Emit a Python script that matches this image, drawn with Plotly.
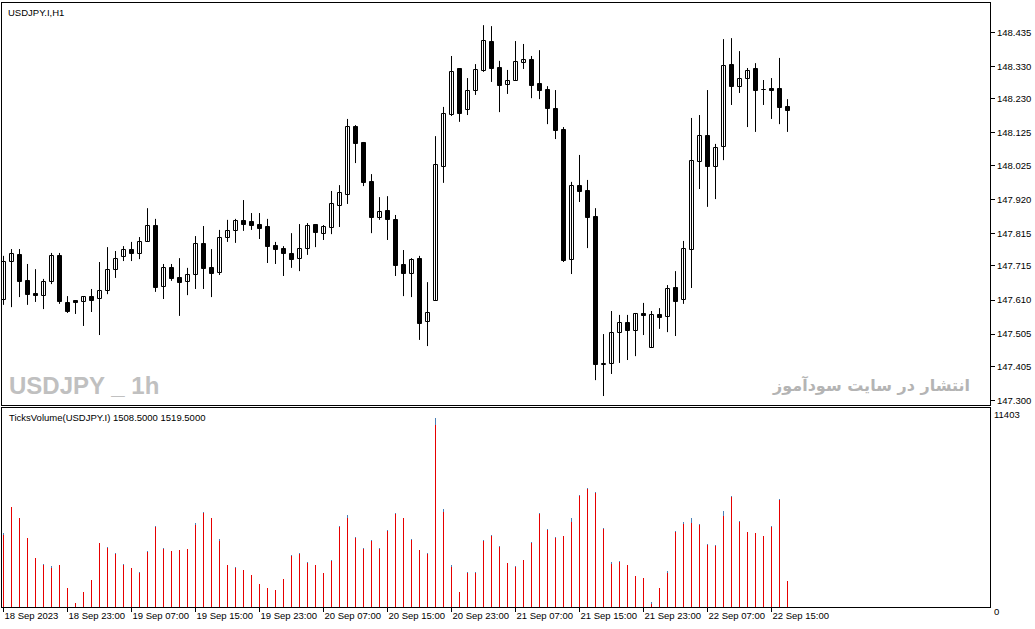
import plotly.graph_objects as go

# USDJPY.I H1, 99 bars from 18 Sep 2023 15:00
opens = [
    147.610, 147.727, 147.749, 147.669, 147.628, 147.622, 147.666, 147.746, 147.601, 147.607,
    147.604, 147.619, 147.613, 147.638, 147.702, 147.742, 147.764, 147.752, 147.789, 147.838,
    147.650, 147.709, 147.678, 147.666, 147.687, 147.783, 147.709, 147.693, 147.801, 147.823,
    147.853, 147.850, 147.841, 147.835, 147.776, 147.767, 147.752, 147.736, 147.767, 147.841,
    147.813, 147.832, 147.900, 147.933, 148.143, 148.094, 147.973, 147.863, 147.884, 147.857,
    147.718, 147.690, 147.736, 147.542, 147.607, 148.020, 148.180, 148.322, 148.196, 148.254,
    148.316, 148.405, 148.325, 148.273, 148.285, 148.340, 148.350, 148.276, 148.257, 148.199,
    148.134, 147.733, 147.961, 147.946, 147.866, 147.410, 147.413, 147.508, 147.539, 147.514,
    147.567, 147.462, 147.564, 147.558, 147.647, 147.610, 147.764, 148.035, 148.115, 148.020,
    148.081, 148.334, 148.266, 148.291, 148.322, 148.257, 148.260, 148.260, 148.205]
highs = [
    147.746, 147.767, 147.767, 147.721, 147.705, 147.675, 147.755, 147.755, 147.622, 147.607,
    147.622, 147.644, 147.727, 147.773, 147.761, 147.776, 147.789, 147.804, 147.893, 147.860,
    147.721, 147.721, 147.739, 147.709, 147.807, 147.838, 147.767, 147.826, 147.857, 147.860,
    147.918, 147.878, 147.878, 147.860, 147.789, 147.776, 147.816, 147.844, 147.847, 147.844,
    147.841, 147.946, 147.964, 148.168, 148.149, 148.097, 147.998, 147.927, 147.930, 147.872,
    147.764, 147.739, 147.746, 147.665, 148.115, 148.205, 148.362, 148.322, 148.294, 148.337,
    148.457, 148.454, 148.347, 148.319, 148.408, 148.399, 148.362, 148.380, 148.269, 148.257,
    148.143, 147.974, 148.057, 147.980, 147.893, 147.505, 147.576, 147.564, 147.564, 147.570,
    147.601, 147.576, 147.585, 147.656, 147.699, 147.792, 148.171, 148.180, 148.257, 148.091,
    148.414, 148.417, 148.377, 148.325, 148.340, 148.288, 148.294, 148.356, 148.229]
lows = [
    147.595, 147.588, 147.619, 147.595, 147.604, 147.582, 147.659, 147.598, 147.570, 147.567,
    147.530, 147.573, 147.502, 147.628, 147.678, 147.730, 147.730, 147.736, 147.789, 147.635,
    147.613, 147.669, 147.561, 147.625, 147.644, 147.644, 147.619, 147.687, 147.789, 147.786,
    147.823, 147.826, 147.798, 147.724, 147.721, 147.684, 147.709, 147.699, 147.749, 147.773,
    147.795, 147.813, 147.835, 147.906, 148.032, 147.961, 147.816, 147.857, 147.795, 147.684,
    147.622, 147.619, 147.487, 147.468, 147.607, 147.971, 148.177, 148.159, 148.180, 148.242,
    148.313, 148.282, 148.189, 148.245, 148.285, 148.322, 148.232, 148.229, 148.152, 148.106,
    147.727, 147.690, 147.912, 147.770, 147.363, 147.314, 147.382, 147.416, 147.425, 147.437,
    147.502, 147.462, 147.521, 147.511, 147.499, 147.598, 147.647, 147.952, 147.897, 147.921,
    148.041, 148.211, 148.248, 148.143, 148.128, 148.211, 148.168, 148.152, 148.128]
closes = [
    147.727, 147.752, 147.666, 147.625, 147.622, 147.666, 147.746, 147.604, 147.573, 147.601,
    147.619, 147.607, 147.638, 147.702, 147.736, 147.764, 147.752, 147.789, 147.838, 147.647,
    147.709, 147.675, 147.662, 147.687, 147.783, 147.705, 147.690, 147.801, 147.823, 147.853,
    147.841, 147.838, 147.829, 147.773, 147.764, 147.752, 147.733, 147.767, 147.838, 147.816,
    147.835, 147.906, 147.940, 148.143, 148.091, 147.970, 147.863, 147.881, 147.857, 147.715,
    147.690, 147.733, 147.536, 147.570, 148.026, 148.183, 148.313, 148.183, 148.254, 148.319,
    148.408, 148.322, 148.269, 148.285, 148.343, 148.350, 148.269, 148.254, 148.199, 148.131,
    147.730, 147.961, 147.943, 147.863, 147.410, 147.413, 147.508, 147.539, 147.514, 147.567,
    147.561, 147.564, 147.555, 147.644, 147.604, 147.767, 148.038, 148.115, 148.020, 148.078,
    148.331, 148.266, 148.291, 148.316, 148.254, 148.256, 148.254, 148.202, 148.193]

# TicksVolume indicator: two buffers (blue drawn behind, red in front)
vol_blue = [
    4295, 5797, 5162, 4006, 2850, 2503, 2387, 2445, 1116, 249,
    884, 1578, 3717, 3485, 3139, 2503, 2272, 2040, 3254, 4699,
    3428, 3254, 3312, 3370, 4873, 5508, 5162, 3948, 2445, 2329,
    2156, 1867, 1347, 1116, 1000, 1636, 3023, 3139, 2618, 2445,
    1983, 2734, 4699, 5335, 4063, 3428, 3890, 3428, 4468, 5451,
    5162, 3948, 3312, 3139, 10942, 5682, 2445, 884, 2040, 2040,
    3890, 4179, 3543, 2561, 2387, 2734, 3774, 5451, 4526, 4063,
    4121, 5162, 6491, 6896, 6664, 4584, 2618, 2676, 2445, 1809,
    1694, 306, 1116, 2098, 4410, 4930, 5162, 4815, 3659, 3601,
    5566, 6433, 4988, 4352, 4295, 4121, 4699, 6260, 1519.5]
vol_red = [
    4179, 5780, 5145, 3990, 2835, 2468, 2272, 2430, 1105, 240,
    875, 1565, 3700, 3428, 3081, 2468, 2260, 2006, 3196, 4680,
    3410, 3240, 3295, 3355, 4780, 5490, 5145, 3832, 2430, 2272,
    2140, 1855, 1335, 1105, 990, 1625, 3005, 3120, 2561, 2430,
    1970, 2676, 4641, 5162, 4045, 3410, 3872, 3410, 4450, 5430,
    5145, 3930, 3295, 3081, 10560, 5508, 2329, 875, 1983, 1983,
    3832, 4160, 3525, 2545, 2329, 2718, 3755, 5430, 4508, 4045,
    4105, 4930, 6470, 6875, 6645, 4565, 2503, 2618, 2430, 1795,
    1680, 191, 1105, 1983, 4392, 4815, 4873, 4757, 3640, 3543,
    5277, 6410, 4970, 4335, 4278, 4105, 4680, 6240, 1508.5]

price_ticks = [148.435, 148.330, 148.230, 148.125, 148.025, 147.920,
               147.815, 147.715, 147.610, 147.505, 147.405, 147.300]
date_ticks = [0, 8, 16, 24, 32, 40, 48, 56, 64, 72, 80, 88, 96]
date_labels = ["18 Sep 2023", "18 Sep 23:00", "19 Sep 07:00", "19 Sep 15:00",
               "19 Sep 23:00", "20 Sep 07:00", "20 Sep 15:00", "20 Sep 23:00",
               "21 Sep 07:00", "21 Sep 15:00", "21 Sep 23:00", "22 Sep 07:00",
               "22 Sep 15:00"]

idx = list(range(len(opens)))
FONT = "Liberation Sans"

fig = go.Figure()

# wicks
wx, wy = [], []
for i in idx:
    wx += [i, i, None]
    wy += [lows[i], highs[i], None]
fig.add_trace(go.Scatter(x=wx, y=wy, mode="lines", line=dict(color="black", width=1),
                         hoverinfo="skip", showlegend=False))

# bodies
bull = [i for i in idx if closes[i] >= opens[i]]
bear = [i for i in idx if closes[i] < opens[i]]
fig.add_trace(go.Bar(x=bull, y=[closes[i] - opens[i] for i in bull], base=[opens[i] for i in bull],
                     width=0.5, marker=dict(color="white", line=dict(color="black", width=1)),
                     showlegend=False))
fig.add_trace(go.Bar(x=bear, y=[opens[i] - closes[i] for i in bear], base=[closes[i] for i in bear],
                     width=0.5, marker=dict(color="black", line=dict(color="black", width=1)),
                     showlegend=False))

# volume
fig.add_trace(go.Bar(x=idx, y=vol_blue, width=0.125, marker=dict(color="#4a7fb5", line_width=0),
                     xaxis="x2", yaxis="y2", showlegend=False))
fig.add_trace(go.Bar(x=idx, y=vol_red, width=0.125, marker=dict(color="#e60000", line_width=0),
                     xaxis="x2", yaxis="y2", showlegend=False))

xr = [-0.1875, -0.1875 + 988 / 8]
split_main = (607 - 405) / 604
split_vol = (607 - 407.5) / 604

fig.update_layout(
    width=1035, height=629,
    margin=dict(l=2, r=45, t=3, b=22),
    paper_bgcolor="white", plot_bgcolor="white",
    barmode="overlay", bargap=0,
    font=dict(family=FONT, size=10, color="black"),
    xaxis=dict(domain=[0, 1], range=xr, showticklabels=False, ticks="", showgrid=False,
               zeroline=False, showline=True, mirror=True, linecolor="black", linewidth=1,
               anchor="y"),
    yaxis=dict(domain=[split_main, 1], range=[147.2864, 148.5253], side="right",
               tickvals=price_ticks, ticktext=["%.3f" % p for p in price_ticks],
               ticks="outside", ticklen=4, tickcolor="black", showgrid=False, zeroline=False,
               showline=True, mirror=True, linecolor="black", linewidth=1,
               tickfont=dict(size=9.5), anchor="x"),
    xaxis2=dict(domain=[0, 1], range=xr, tickvals=date_ticks, ticktext=date_labels,
                ticks="outside", ticklen=4, tickcolor="black", ticklabelposition="outside right",
                tickangle=0, showgrid=False, zeroline=False, showline=True, mirror=True,
                linecolor="black", linewidth=1, tickfont=dict(size=9.5), anchor="y2"),
    yaxis2=dict(domain=[0, split_vol], range=[0, 11530], side="right", showticklabels=False,
                ticks="", showgrid=False, zeroline=False, showline=True, mirror=True,
                linecolor="black", linewidth=1, anchor="x2"),
)

fig.add_annotation(text="USDJPY.I,H1", xref="paper", yref="paper", x=0, y=1,
                   xanchor="left", yanchor="top", xshift=4, yshift=-2, showarrow=False,
                   font=dict(size=9.5))
fig.add_annotation(text="TicksVolume(USDJPY.I) 1508.5000 1519.5000", xref="paper", yref="paper",
                   x=0, y=split_vol, xanchor="left", yanchor="top", xshift=5, yshift=-2,
                   showarrow=False, font=dict(size=9.5))
fig.add_annotation(text="11403", xref="paper", yref="paper", x=1, y=(607 - 414) / 604,
                   xanchor="left", yanchor="middle", xshift=2, showarrow=False,
                   font=dict(size=9.5))
fig.add_annotation(text="0", xref="paper", yref="paper", x=1, y=(607 - 611) / 604,
                   xanchor="left", yanchor="middle", xshift=2, showarrow=False,
                   font=dict(size=9.5))
# watermarks
fig.add_annotation(text="<b>USDJPY _ 1h</b>", xref="paper", yref="paper", x=0, y=(607 - 385) / 604,
                   xanchor="left", yanchor="middle", xshift=5, showarrow=False,
                   font=dict(family="Liberation Sans", size=24, color="#c0c0c0"))
fig.add_annotation(text="<b>انتشار در سایت سودآموز</b>", xref="paper", yref="paper",
                   x=(972 - 2) / 988, y=(607 - 385) / 604, xanchor="right", yanchor="middle",
                   showarrow=False, font=dict(family="DejaVu Sans", size=16, color="#b4b4b4"))

# the page opens with the browser's default 8px body margin; drop it
fig.write_html("out.html", config={"displayModeBar": False},
               post_script="document.body.style.margin='0';")
